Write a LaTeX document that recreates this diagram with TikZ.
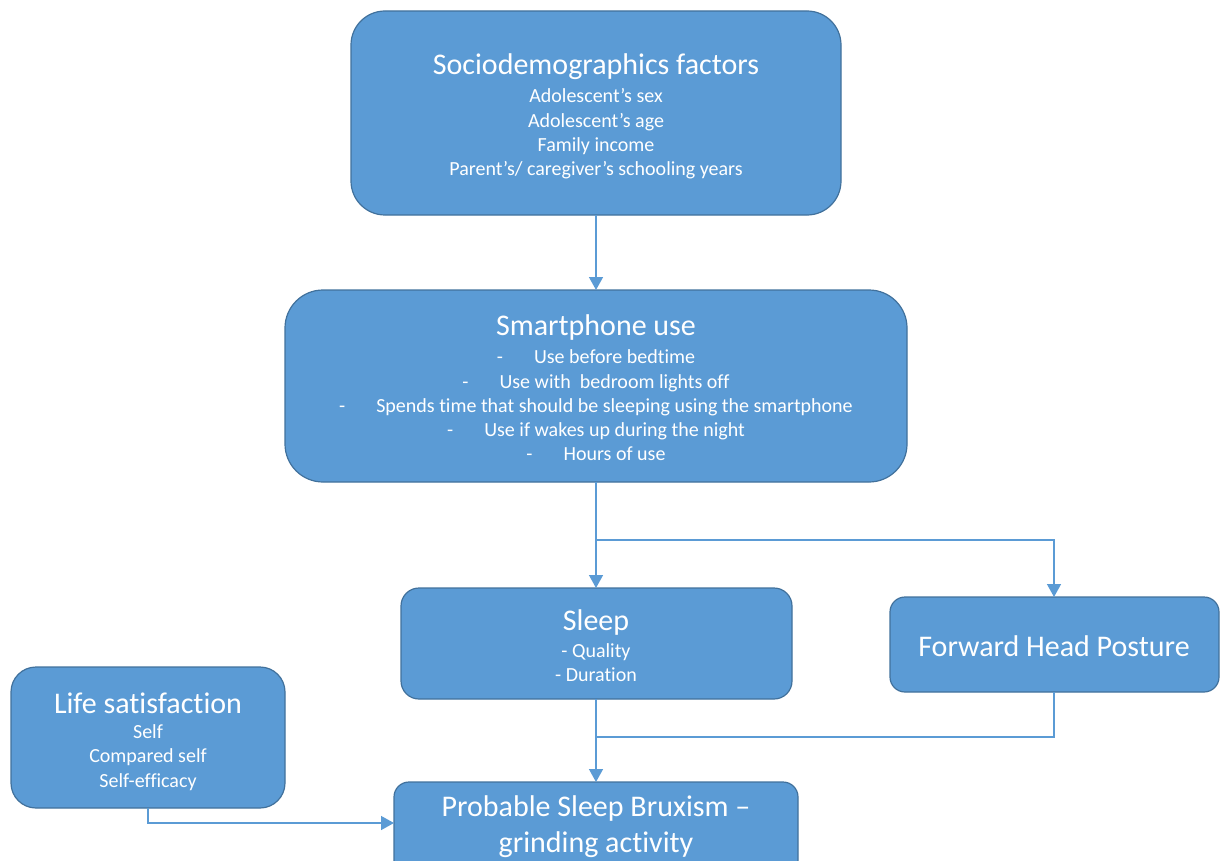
\documentclass[tikz,border=0pt]{standalone}
\usepackage{fontspec}
\setmainfont[Ligatures={NoCommon}]{Carlito}
\usetikzlibrary{arrows.meta}
\definecolor{boxfill}{HTML}{5B9BD5}
\definecolor{boxedge}{HTML}{41719C}
\definecolor{linecol}{HTML}{5B9BD5}
\begin{document}
\begin{tikzpicture}[x=1pt,y=-1pt,
  box/.style={draw=boxedge,line width=1.2pt,fill=boxfill,inner sep=0pt},
  title/.style={text=white,font=\fontsize{30}{36}\selectfont,inner sep=0pt},
  items/.style={text=white,font=\fontsize{20}{24.3}\selectfont,align=center,inner sep=0pt},
  conn/.style={draw=linecol,line width=1.5pt},
  arr/.style={conn,-{Triangle[width=14pt,length=13pt]}}
]
\useasboundingbox (0,0) rectangle (1220,861);
\begin{scope}
\clip (0,0) rectangle (1220,861);
% boxes
\draw[box,rounded corners=34pt] (351,11) rectangle (841,215);
\coordinate (b1t) at (596,11); \coordinate (b1b) at (596,215);
\draw[box,rounded corners=38pt] (285,290) rectangle (907,482);
\coordinate (b2t) at (596,290); \coordinate (b2b) at (596,482);
\draw[box,rounded corners=18pt] (401,588) rectangle (792,699);
\coordinate (b3t) at (596,588); \coordinate (b3b) at (596,699);
\draw[box,rounded corners=15pt] (890,597) rectangle (1219,692);
\coordinate (b4t) at (1054,597); \coordinate (b4b) at (1054,692);
\draw[box,rounded corners=25pt] (11,667) rectangle (285,808);
\coordinate (b5b) at (148,808);
\draw[box,rounded corners=15pt] (394,782) rectangle (798,875);
\coordinate (b6t) at (596,782); \coordinate (b6l) at (394,823);
\end{scope}

% texts
\node[title] (t1) at (596,67) {Sociodemographics factors};
\node[items] (l1) at (596,134) {Adolescent’s sex\\Adolescent’s age\\Family income\\Parent’s/ caregiver’s schooling years};

\node[title] (t2) at (596,328) {Smartphone use};
\node[items] (l2) at (596,405.5) {-\hspace{31pt}Use before bedtime\\-\hspace{31pt}Use with\ \ bedroom lights off\\-\hspace{31pt}Spends time that should be sleeping using the smartphone\\-\hspace{31pt}Use if wakes up during the night\\-\hspace{31pt}Hours of use};

\node[title] (t3) at (596,622) {Sleep};
\node[items] (l3) at (596,662.5) {- Quality\\- Duration};

\node[title] (t4) at (1054,646) {Forward Head Posture};

\node[title] (t5) at (148,703) {Life satisfaction};
\node[items] (l5) at (148,757.5) {Self\\Compared self\\Self-efficacy};

\node[title,align=center] (t6) at (596,827) {Probable Sleep Bruxism –\\grinding activity};

% connectors
\coordinate (j1) at (596,540);
\coordinate (j1r) at (1054,540);
\coordinate (j2) at (596,737);
\coordinate (j2r) at (1054,737);
\coordinate (j3) at (148,823);
\draw[arr] (b1b) -- (b2t);
\draw[arr] (b2b) -- (b3t);
\draw[arr] (j1) -- (j1r) -- (b4t);
\draw[arr] (b3b) -- (b6t);
\draw[conn] (b4b) -- (j2r) -- (j2);
\draw[arr] (b5b) -- (j3) -- (b6l);
\end{tikzpicture}
\end{document}
